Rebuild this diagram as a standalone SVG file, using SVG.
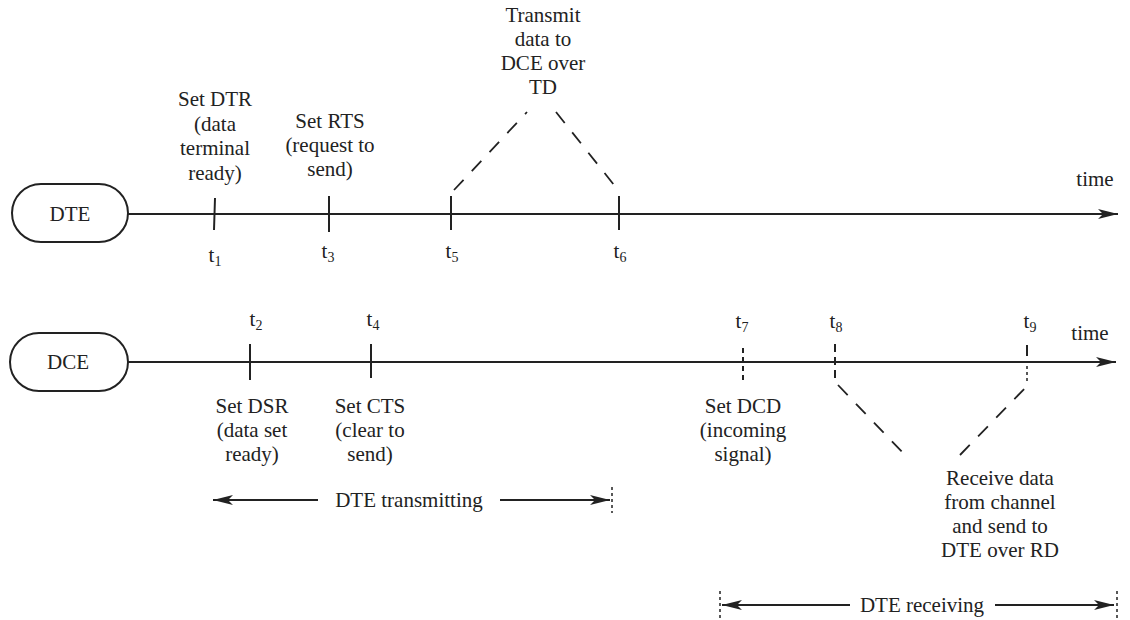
<svg xmlns="http://www.w3.org/2000/svg" width="1130" height="620" viewBox="0 0 1130 620">
<style>
text{font-family:"Liberation Serif","DejaVu Serif",serif;font-size:21px;fill:#222;text-anchor:middle}
.ln{stroke:#222;stroke-width:2;fill:none}
.tk{stroke:#222;stroke-width:2}
.ds{stroke:#222;stroke-width:1.8;stroke-dasharray:14 12;fill:none}
.dt{stroke:#222;stroke-width:1.5;stroke-dasharray:3 3}
</style>
<defs>
<marker id="ah" viewBox="0 0 20 10" refX="20" refY="5" markerWidth="20" markerHeight="10" markerUnits="userSpaceOnUse" orient="auto-start-reverse">
<path d="M0,0 L20,5 L0,10 L5,5 Z" fill="#222"/>
</marker>
</defs>
<rect width="1130" height="620" fill="#fff"/>
<g id="dte">
<rect x="12" y="184" width="116" height="58" rx="29" class="ln"/>
<text x="70" y="221">DTE</text>
</g>
<g id="dce">
<rect x="10" y="333" width="118" height="58" rx="29" class="ln"/>
<text x="68" y="369">DCE</text>
</g>
<g id="connectors">
<line x1="128" y1="214" x2="1118" y2="214" class="ln" marker-end="url(#ah)"/>
<line x1="128" y1="362" x2="1116" y2="362" class="ln" marker-end="url(#ah)"/>
<line x1="215" y1="198" x2="214" y2="230" class="tk"/>
<line x1="329" y1="196" x2="329" y2="232" class="tk"/>
<line x1="451" y1="196" x2="451" y2="230" class="tk"/>
<line x1="619" y1="196" x2="619" y2="230" class="tk"/>
<line x1="250" y1="344" x2="250" y2="380" class="tk"/>
<line x1="371" y1="344" x2="371" y2="378" class="tk"/>
<line x1="743" y1="348" x2="743" y2="380" class="tk" stroke-dasharray="5 4"/>
<line x1="835" y1="344" x2="835" y2="380" class="tk" stroke-dasharray="8 5"/>
<line x1="1027" y1="345" x2="1027" y2="356" class="tk"/>
<line x1="1027" y1="366" x2="1027" y2="382" class="dt"/>
<path d="M454,190 L527,112" class="ds"/>
<path d="M556,112 L618,190" class="ds"/>
<path d="M838,385 L905,455" class="ds"/>
<path d="M960,455 L1028,385" class="ds"/>
<line x1="318" y1="500" x2="213" y2="500" class="ln" stroke-width="1.5" marker-end="url(#ah)"/>
<line x1="500" y1="500" x2="610" y2="500" class="ln" stroke-width="1.5" marker-end="url(#ah)"/>
<line x1="612" y1="487" x2="612" y2="513" class="dt"/>
<line x1="850" y1="605" x2="722" y2="605" class="ln" stroke-width="1.5" marker-end="url(#ah)"/>
<line x1="995" y1="605" x2="1114" y2="605" class="ln" stroke-width="1.5" marker-end="url(#ah)"/>
<line x1="720" y1="591" x2="720" y2="619" class="dt"/>
<line x1="1117" y1="591" x2="1117" y2="619" class="dt"/>
</g>
<g id="labels">
<text x="215" y="106">Set DTR</text>
<text x="215" y="131">(data</text>
<text x="215" y="155">terminal</text>
<text x="215" y="180">ready)</text>
<text x="330" y="128">Set RTS</text>
<text x="330" y="152">(request to</text>
<text x="330" y="176">send)</text>
<text x="543" y="22">Transmit</text>
<text x="543" y="46">data to</text>
<text x="543" y="70">DCE over</text>
<text x="543" y="94">TD</text>
<text x="1095" y="186">time</text>
<text x="215" y="262">t<tspan font-size="14" dy="4">1</tspan></text>
<text x="328" y="258">t<tspan font-size="14" dy="4">3</tspan></text>
<text x="452" y="258">t<tspan font-size="14" dy="4">5</tspan></text>
<text x="620" y="258">t<tspan font-size="14" dy="4">6</tspan></text>
<text x="256" y="326">t<tspan font-size="14" dy="4">2</tspan></text>
<text x="373" y="326">t<tspan font-size="14" dy="4">4</tspan></text>
<text x="742" y="328">t<tspan font-size="14" dy="4">7</tspan></text>
<text x="836" y="328">t<tspan font-size="14" dy="4">8</tspan></text>
<text x="1030" y="328">t<tspan font-size="14" dy="4">9</tspan></text>
<text x="1090" y="340">time</text>
<text x="252" y="413">Set DSR</text>
<text x="252" y="437">(data set</text>
<text x="252" y="461">ready)</text>
<text x="370" y="413">Set CTS</text>
<text x="370" y="437">(clear to</text>
<text x="370" y="461">send)</text>
<text x="743" y="413">Set DCD</text>
<text x="743" y="437">(incoming</text>
<text x="743" y="461">signal)</text>
<text x="1000" y="485">Receive data</text>
<text x="1000" y="509">from channel</text>
<text x="1000" y="533">and send to</text>
<text x="1000" y="557">DTE over RD</text>
<text x="409" y="507">DTE transmitting</text>
<text x="922" y="612">DTE receiving</text>
</g>
</svg>
